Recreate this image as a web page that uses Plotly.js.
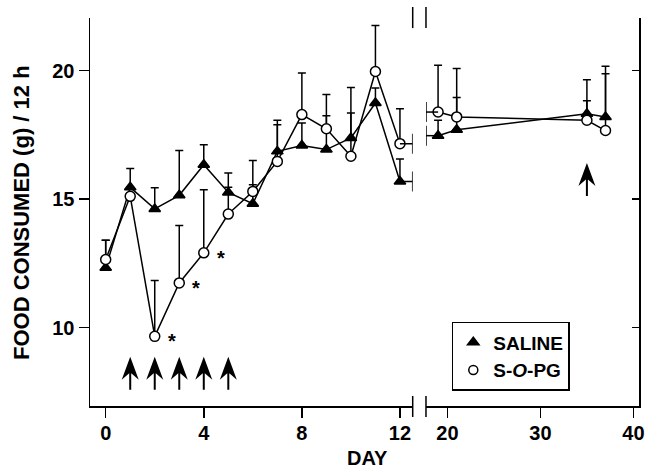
<!DOCTYPE html>
<html>
<head>
<meta charset="utf-8">
<script src="https://cdn.plot.ly/plotly-3.0.1.min.js"></script>
<style>html,body{margin:0;padding:0;background:#fff;}#chart{width:645px;height:473px;}</style>
</head>
<body>
<div id="chart"></div>
<script>
// ---- data ----
var daysEarly = [0, 1, 2, 3, 4, 5, 6, 7, 8, 9, 10, 11, 12];
var salineEarly = [12.33, 15.46, 14.62, 15.15, 16.34, 15.26, 14.82, 16.86, 17.09, 16.93, 17.38, 18.74, 15.69];
var salineEarlySem = [1.07, 0.73, 0.82, 1.74, 0.78, 0.76, 1.68, 1.21, 0.87, 1.32, 0.97, 0.59, 0.87];
var sopgEarly = [12.65, 15.11, 9.66, 11.74, 12.91, 14.42, 15.30, 16.47, 18.29, 17.74, 16.67, 19.97, 17.16];
var sopgEarlySem = [0.75, 0, 2.17, 2.23, 2.46, 1.04, 0.26, 1.43, 1.62, 1.33, 2.68, 1.79, 1.36];

var daysLate = [19, 21, 35, 37];
var salineLate = [17.47, 17.70, 18.32, 18.20];
var salineLateSem = [0.60, 1.26, 0.51, 1.68];
var sopgLate = [18.39, 18.20, 18.07, 17.67];
var sopgLateSem = [1.82, 1.88, 1.58, 2.50];

var injectionDaysEarly = [1, 2, 3, 4, 5];
var injectionDaysLate = [35];
var significantDays = [2, 3, 4];

var xTicksEarly = [0, 4, 8, 12];
var xTicksLate = [20, 30, 40];
var yTicks = [10, 15, 20];

var seriesNames = ['SALINE', 'S-<i>O</i>-PG'];
var yTitle = 'FOOD CONSUMED (g) / 12 h';
var xTitle = 'DAY';

// ---- styling / layout constants ----
var FONT = 'Liberation Sans, Arial, Helvetica, sans-serif';
var LW = 1.5;
var xRangeEarly = [-0.64, 12.52];
var xRangeLate = [17.7, 40.6];
var yRange = [6.95, 22.05];
var arrowTipEarly = 8.87;
var arrowTipLate = 16.41;
var breakHalf = 0.39;

function zeros(n){ var a=[]; for(var i=0;i<n;i++) a.push(0); return a; }

function series(x, y, sem, sym, fill, xa, ya){
  return {
    x: x, y: y, type: 'scatter', mode: 'lines+markers',
    xaxis: xa, yaxis: ya, showlegend: false, hoverinfo: 'skip',
    line: {color: '#000', width: LW},
    marker: {symbol: sym, size: 10, color: fill, line: {color: '#000', width: LW}},
    error_y: {type: 'data', symmetric: false, array: sem, arrayminus: zeros(sem.length),
              width: 4, thickness: LW, color: '#000'}
  };
}

var traces = [
  series(daysEarly, salineEarly, salineEarlySem, 'triangle-up', '#000', 'x', 'y'),
  series(daysEarly, sopgEarly, sopgEarlySem, 'circle', '#fff', 'x', 'y'),
  series(daysLate, salineLate, salineLateSem, 'triangle-up', '#000', 'x2', 'y2'),
  series(daysLate, sopgLate, sopgLateSem, 'circle', '#fff', 'x2', 'y2'),
  {x: [null], y: [null], type: 'scatter', mode: 'markers', name: seriesNames[0],
   marker: {symbol: 'triangle-up', size: 10, color: '#000', line: {color: '#000', width: LW}}},
  {x: [null], y: [null], type: 'scatter', mode: 'markers', name: seriesNames[1],
   marker: {symbol: 'circle', size: 9, color: '#fff', line: {color: '#000', width: LW}}}
];

var tickFont = {family: FONT, size: 20, color: '#000', weight: 'bold'};
function xAxis(dom, range, ticks, anchor){
  return {domain: dom, range: range, tickvals: ticks, ticktext: ticks.map(String), anchor: anchor,
          ticks: 'outside', ticklen: 10, tickwidth: LW, tickcolor: '#000', ticklabelstandoff: -2,
          showline: true, linewidth: LW, linecolor: '#000', showgrid: false, zeroline: false,
          tickfont: tickFont, fixedrange: true};
}
function topAxis(over, range, ticks, anchor){
  return {overlaying: over, side: 'top', range: range, tickvals: ticks, anchor: anchor,
          ticks: 'inside', ticklen: 8, tickwidth: LW, tickcolor: '#000', showticklabels: false,
          showline: true, linewidth: LW, linecolor: '#000', showgrid: false, zeroline: false};
}

var shapes = [];
function arrow(xref, yref, day, tip){
  shapes.push({type: 'path', xref: xref, yref: yref, xsizemode: 'pixel', ysizemode: 'pixel',
    xanchor: day, yanchor: tip,
    path: 'M0,0 L8.5,-23 L1,-16.5 L1,-33 L-1,-33 L-1,-16.5 L-8.5,-23 Z',
    fillcolor: '#000', line: {width: 0}});
}
injectionDaysEarly.forEach(function(d){ arrow('x', 'y', d, arrowTipEarly); });
injectionDaysLate.forEach(function(d){ arrow('x2', 'y2', d, arrowTipLate); });

// axis break marks
function brk(xref, xpos){
  [[1.0284, 0.974], [0.0258, -0.0284]].forEach(function(p){
    shapes.push({type: 'line', xref: xref, yref: 'paper', x0: xpos, x1: xpos, y0: p[0], y1: p[1],
                 line: {color: '#000', width: LW}});
  });
}
brk('x domain', 1);
brk('x2 domain', 0);

// series break stubs
function stub(xref, yref, xFrom, xEdge, v){
  shapes.push({type: 'line', xref: xref, yref: yref, x0: xFrom, x1: xEdge, y0: v, y1: v,
               line: {color: '#000', width: LW}});
  shapes.push({type: 'line', xref: xref, yref: yref, x0: xEdge, x1: xEdge, y0: v - breakHalf, y1: v + breakHalf,
               line: {color: '#000', width: LW}});
}
var last = daysEarly.length - 1;
stub('x', 'y', daysEarly[last], xRangeEarly[1], salineEarly[last]);
stub('x', 'y', daysEarly[last], xRangeEarly[1], sopgEarly[last]);
stub('x2', 'y2', daysLate[0], xRangeLate[0], salineLate[0]);
stub('x2', 'y2', daysLate[0], xRangeLate[0], sopgLate[0]);

var annotations = [
  {text: yTitle, xref: 'paper', yref: 'paper', x: -0.1257, y: 0.5, textangle: -90,
   showarrow: false, xanchor: 'center', yanchor: 'middle',
   font: {family: FONT, size: 22, color: '#000', weight: 'bold'}},
  {text: xTitle, xref: 'paper', yref: 'paper', x: 0.505, y: -0.133, showarrow: false,
   xanchor: 'center', yanchor: 'middle', font: {family: FONT, size: 20, color: '#000', weight: 'bold'}}
];
significantDays.forEach(function(d){
  var i = daysEarly.indexOf(d);
  annotations.push({text: '*', x: d, y: sopgEarly[i], xref: 'x', yref: 'y', showarrow: false,
    xshift: 17, yshift: -5, font: {family: FONT, size: 20, color: '#000', weight: 'bold'}});
});

var layout = {
  width: 645, height: 473,
  margin: {l: 90, r: 6, t: 18, b: 67},
  paper_bgcolor: '#fff', plot_bgcolor: '#fff',
  font: {family: FONT, color: '#000', weight: 'bold'},
  xaxis: xAxis([0, 0.5878], xRangeEarly, xTicksEarly, 'y'),
  xaxis2: xAxis([0.612, 1], xRangeLate, xTicksLate, 'y2'),
  xaxis3: topAxis('x', xRangeEarly, xTicksEarly, 'y'),
  xaxis4: topAxis('x2', xRangeLate, xTicksLate, 'y2'),
  yaxis: {domain: [0, 1], range: yRange, tickvals: yTicks, anchor: 'x', ticks: 'outside', ticklen: 10,
          tickwidth: LW, tickcolor: '#000', showline: true, linewidth: LW, linecolor: '#000',
          showgrid: false, zeroline: false, tickfont: tickFont},
  yaxis2: {domain: [0, 1], range: yRange, tickvals: yTicks, anchor: 'x2', side: 'right', ticks: 'inside',
           ticklen: 7, tickwidth: LW, tickcolor: '#000', showline: true, linewidth: LW, linecolor: '#000',
           showgrid: false, zeroline: false, showticklabels: false},
  showlegend: true,
  legend: {x: 0.659, y: 0.2165, xanchor: 'left', yanchor: 'top', bgcolor: '#fff',
           bordercolor: '#000', borderwidth: LW, entrywidth: 112, tracegroupgap: 0,
           font: {family: FONT, size: 19, color: '#000', weight: 'bold'}},
  shapes: shapes,
  annotations: annotations
};

Plotly.newPlot('chart', traces, layout, {staticPlot: true, displayModeBar: false});
</script>
</body>
</html>
